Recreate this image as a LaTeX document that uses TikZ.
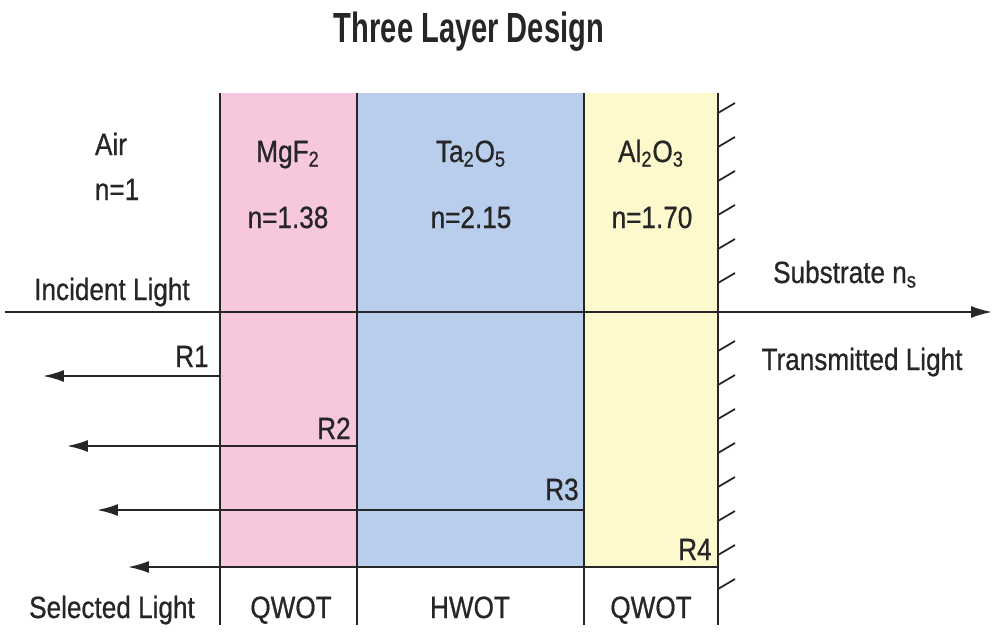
\documentclass[tikz,border=0pt]{standalone}
\usepackage{fontspec}
\setmainfont[FakeStretch=0.85, FakeBold=0.7]{Liberation Sans}
\newfontfamily\titlefont[FakeStretch=0.69]{Liberation Sans}
\usepackage{xcolor}
\usetikzlibrary{arrows.meta}
\definecolor{mgfpink}{HTML}{F7C8DD}
\definecolor{taoblue}{HTML}{B9CEEC}
\definecolor{aloyellow}{HTML}{FEF8CD}
\definecolor{ink}{HTML}{262626}

\begin{document}
\begin{tikzpicture}[
    x=0.02cm, y=-0.02cm,
    font=\fontsize{17.5}{21}\selectfont,
    label/.style={anchor=base, inner sep=0pt, text=ink},
    rlabel/.style={anchor=base east, inner sep=0pt, text=ink},
    line/.style={draw=ink, line width=1.1pt},
    arrow/.style={line, -{Latex[length=0.42cm, width=0.24cm]}},
    hatch/.style={draw=ink, line width=1pt}
]

\useasboundingbox (0,0) rectangle (1000,632);

% --- Layers ---
\fill[mgfpink] (220,93) rectangle (357,568);
\fill[taoblue] (357,93) rectangle (584,568);
\fill[aloyellow] (584,93) rectangle (718,568);

\foreach \xb in {220,357,584,718}
  \draw[line] (\xb,93) -- (\xb,625);

% --- Substrate hatching ---
\foreach \yh in {113,147,181,215,249,283,351,385,419,453,487,521,555,589}
  \draw[hatch] (718,\yh) -- ++(17,-10);

% --- Title ---
\node[label, font=\titlefont\bfseries\fontsize{24}{28}\selectfont] (title) at (469,42) {Three Layer Design};

% --- Media ---
\node[label] (air)   at (111,155) {Air};
\node[label] (airn)  at (117,200) {n=1};
\node[label] (mgf)   at (288,162) {MgF\textsubscript{2}};
\node[label] (mgfn)  at (288,228) {n=1.38};
\node[label] (tao)   at (471,162) {Ta\textsubscript{2}O\textsubscript{5}};
\node[label] (taon)  at (471,228) {n=2.15};
\node[label] (alo)   at (651,162) {Al\textsubscript{2}O\textsubscript{3}};
\node[label] (alon)  at (652,228) {n=1.70};
\node[label] (subs)  at (845,283) {Substrate n\textsubscript{s}};

% --- Light ---
\node[label] (incident) at (112,300) {Incident Light};
\node[label] (transm)   at (862,370) {Transmitted Light};
\node[label] (selected) at (112,618) {Selected Light};

% --- Thicknesses ---
\node[label] (qwota) at (291,618) {QWOT};
\node[label] (hwot)  at (470,618) {HWOT};
\node[label] (qwotb) at (651,618) {QWOT};

% --- Rays ---
\coordinate (inS) at (5,312);
\coordinate (inE) at (992,312);
\draw[arrow] (inS) -- (inE);

\coordinate (r1S) at (220,376);  \coordinate (r1E) at (43,376);
\coordinate (r2S) at (357,446);  \coordinate (r2E) at (67,446);
\coordinate (r3S) at (584,510);  \coordinate (r3E) at (97,510);
\coordinate (r4S) at (718,567);  \coordinate (r4E) at (128,567);
\draw[arrow] (r1S) -- (r1E);
\draw[arrow] (r2S) -- (r2E);
\draw[arrow] (r3S) -- (r3E);
\draw[arrow] (r4S) -- (r4E);

\node[rlabel] (r1) at (209,367) {R1};
\node[rlabel] (r2) at (351,439) {R2};
\node[rlabel] (r3) at (579,500) {R3};
\node[rlabel] (r4) at (712,560) {R4};

\end{tikzpicture}
\end{document}
